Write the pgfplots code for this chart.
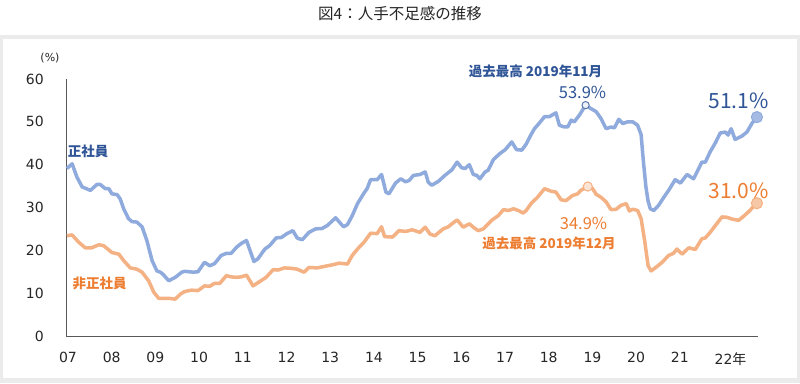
\documentclass[border=0pt]{standalone}
\usepackage{pgfplots}
\pgfplotsset{compat=1.18}
\usepackage{fontspec}
\setmainfont{DejaVu Sans}
\newfontfamily\cjk{Noto Sans CJK JP}
\definecolor{bl}{HTML}{8FAADC}
\definecolor{orl}{HTML}{F4B183}
\definecolor{blt}{HTML}{2F5597}
\definecolor{ort}{HTML}{ED7D31}
\definecolor{frame}{HTML}{EBEBEB}
\definecolor{axl}{HTML}{595959}
\definecolor{txt}{HTML}{262626}
\begin{document}
\begin{tikzpicture}[x=1bp,y=1bp]
\useasboundingbox (0,0) rectangle (800,383);
\fill[white] (0,0) rectangle (800,383);
\fill[frame] (0,0) rectangle (800,348);
\fill[white] (3,5) rectangle (797,344);
\node[font=\cjk\fontsize{15.5bp}{18bp}\selectfont, text=txt] at (400,369) {図4：人手不足感の推移};
\begin{axis}[
  at={(66bp,47bp)}, anchor=south west, scale only axis,
  width=692bp, height=257bp,
  xmin=7, xmax=22.835, ymin=0, ymax=60,
  axis lines=left, axis line style={-, draw=axl, line width=0.8bp},
  clip=false,
  major tick length=0pt,
  xtick={7,...,22},
  xticklabels={07,08,09,10,11,12,13,14,15,16,17,18,19,20,21,{22\rlap{\cjk 年}}},
  ytick={0,10,...,60},
  /pgf/number format/assume math mode=true,
  tick label style={font=\fontsize{14bp}{16bp}\selectfont, text=txt, inner sep=0pt},
  yticklabel style={xshift=-22bp},
  xticklabel style={yshift=-16bp, xshift=2bp},
]
\addplot[bl, line width=3.5bp, line join=round] coordinates {
(7.02,39.1)(7.14,40.2)(7.25,37.1)(7.37,34.8)(7.56,34.0)(7.71,35.4)(7.78,35.4)(7.90,34.4)(7.98,34.4)(8.05,33.2)(8.17,33.0)(8.24,32.0)(8.32,29.7)(8.43,27.4)(8.51,26.7)(8.62,26.6)(8.74,25.5)(8.85,22.3)(8.97,17.6)(9.08,15.2)(9.16,14.9)(9.22,14.4)(9.35,12.9)(9.50,13.7)(9.65,14.9)(9.72,15.1)(9.91,14.9)(10.02,15.0)(10.17,17.2)(10.29,16.4)(10.40,16.9)(10.55,18.8)(10.67,19.3)(10.78,19.3)(10.90,20.7)(11.01,21.6)(11.13,22.3)(11.30,17.4)(11.39,18.0)(11.55,20.3)(11.66,21.1)(11.81,22.9)(11.93,23.0)(12.04,23.8)(12.19,24.6)(12.29,22.9)(12.33,22.7)(12.41,22.5)(12.56,24.2)(12.71,25.0)(12.86,25.1)(12.98,25.8)(13.17,27.6)(13.35,25.5)(13.44,26.0)(13.55,28.1)(13.67,30.9)(13.82,33.4)(13.89,34.4)(13.97,36.5)(14.12,36.5)(14.22,37.7)(14.32,33.6)(14.39,33.2)(14.54,35.7)(14.66,36.7)(14.77,36.0)(14.85,36.3)(14.95,37.5)(15.10,37.7)(15.22,38.3)(15.29,35.9)(15.37,35.2)(15.52,36.1)(15.67,37.5)(15.83,38.8)(15.95,40.6)(16.05,39.3)(16.13,39.1)(16.23,40.0)(16.32,37.7)(16.40,37.5)(16.47,36.7)(16.59,38.3)(16.66,38.7)(16.78,41.2)(16.93,42.6)(17.05,43.5)(17.20,45.3)(17.31,43.5)(17.43,43.4)(17.53,44.8)(17.64,47.0)(17.72,48.4)(17.83,49.7)(17.95,51.2)(18.06,51.2)(18.21,52.1)(18.29,49.2)(18.40,48.8)(18.48,48.8)(18.56,50.4)(18.63,50.0)(18.75,51.6)(18.89,53.9)(19.01,53.1)(19.13,52.4)(19.24,50.8)(19.36,48.4)(19.47,48.8)(19.55,48.6)(19.65,50.6)(19.74,49.6)(19.85,50.0)(19.97,50.0)(20.08,49.2)(20.16,47.0)(20.21,41.0)(20.27,34.8)(20.32,31.5)(20.37,29.7)(20.45,29.3)(20.56,30.5)(20.68,32.4)(20.79,34.0)(20.94,36.5)(21.06,35.7)(21.21,37.7)(21.36,36.7)(21.44,38.3)(21.55,40.6)(21.63,40.6)(21.74,43.0)(21.86,45.1)(21.97,47.4)(22.09,47.6)(22.15,46.9)(22.22,48.4)(22.31,45.9)(22.47,46.7)(22.58,47.6)(22.70,49.7)(22.81,51.1)
};
\addplot[orl, line width=3.5bp, line join=round] coordinates {
(7.02,23.4)(7.14,23.6)(7.29,21.9)(7.44,20.6)(7.59,20.6)(7.75,21.3)(7.86,21.1)(8.05,19.5)(8.21,19.1)(8.32,17.6)(8.47,15.9)(8.62,15.6)(8.74,14.9)(8.89,12.9)(9.01,10.2)(9.12,8.8)(9.35,8.8)(9.50,8.6)(9.62,9.8)(9.72,10.4)(9.87,10.7)(10.02,10.6)(10.17,11.7)(10.29,11.6)(10.40,12.3)(10.52,12.3)(10.67,14.1)(10.78,13.8)(10.90,13.7)(11.01,13.8)(11.13,14.2)(11.28,11.7)(11.43,12.7)(11.58,13.7)(11.74,15.5)(11.85,15.4)(12.00,15.9)(12.16,15.8)(12.29,15.6)(12.45,14.9)(12.56,16.0)(12.75,15.9)(12.94,16.3)(13.09,16.6)(13.25,17.0)(13.44,16.8)(13.55,18.8)(13.67,20.3)(13.82,21.9)(13.97,24.0)(14.12,23.9)(14.22,25.5)(14.29,23.2)(14.47,23.1)(14.62,24.6)(14.77,24.4)(14.92,24.8)(15.10,24.2)(15.22,25.4)(15.33,23.8)(15.44,23.4)(15.63,25.0)(15.75,25.5)(15.83,26.2)(15.95,27.1)(16.09,25.4)(16.23,26.2)(16.32,25.4)(16.43,24.6)(16.55,25.0)(16.74,27.0)(16.89,28.1)(17.01,29.5)(17.12,29.3)(17.24,29.7)(17.35,29.3)(17.46,28.7)(17.53,29.3)(17.64,30.9)(17.79,32.4)(17.95,34.4)(18.10,33.8)(18.21,33.6)(18.33,31.8)(18.44,31.6)(18.59,32.8)(18.71,33.2)(18.78,34.0)(18.94,34.9)(19.05,34.4)(19.13,33.1)(19.24,32.4)(19.36,31.3)(19.47,29.5)(19.59,29.6)(19.70,30.5)(19.82,30.9)(19.89,29.2)(19.97,29.6)(20.08,29.3)(20.16,27.4)(20.24,22.3)(20.32,16.4)(20.39,15.2)(20.52,16.2)(20.64,17.2)(20.79,18.8)(20.90,19.3)(20.98,20.3)(21.10,19.1)(21.25,20.6)(21.40,20.2)(21.55,22.7)(21.63,22.9)(21.74,24.2)(21.86,25.8)(22.01,27.8)(22.13,27.7)(22.24,27.3)(22.39,27.0)(22.51,28.0)(22.62,29.0)(22.73,30.2)(22.81,31.0)
};
% peak and latest markers
\addplot[only marks, mark=*, mark size=3.6bp, mark options={fill=white!85!bl, draw=blt!80, line width=1bp}] coordinates {(18.89,53.9)};
\addplot[only marks, mark=*, mark size=4.6bp, mark options={fill=orl!35, draw=orl, line width=1bp}] coordinates {(18.94,34.9)};
\addplot[only marks, mark=*, mark size=5.6bp, mark options={fill=bl!80!white, draw=bl, line width=1bp}] coordinates {(22.81,51.1)};
\addplot[only marks, mark=*, mark size=5.6bp, mark options={fill=orl!70!white, draw=orl, line width=1bp}] coordinates {(22.81,31.0)};
\end{axis}
\node[font=\fontsize{11bp}{13bp}\selectfont, text=txt] at (50,325) {(\%)};
\node[font=\cjk\bfseries\fontsize{13.5bp}{16bp}\selectfont, text=blt] at (88,232) {正社員};
\node[font=\cjk\bfseries\fontsize{13.5bp}{16bp}\selectfont, text=ort] at (99.5,100) {非正社員};
\node[font=\cjk\bfseries\fontsize{13.5bp}{16bp}\selectfont, text=blt] at (535.5,312) {過去最高 2019年11月};
\node[font=\cjk\fontsize{16.5bp}{19bp}\selectfont, text=blt] at (582.5,290.5) {53.9\%};
\node[font=\cjk\fontsize{21bp}{24bp}\selectfont, text=blt] at (738.5,282.5) {51.1\%};
\node[font=\cjk\fontsize{21bp}{24bp}\selectfont, text=ort] at (738.5,192) {31.0\%};
\node[font=\cjk\fontsize{16.5bp}{19bp}\selectfont, text=ort] at (583.5,159.5) {34.9\%};
\node[font=\cjk\bfseries\fontsize{13.5bp}{16bp}\selectfont, text=ort] at (549,139.5) {過去最高 2019年12月};
\end{tikzpicture}
\end{document}
